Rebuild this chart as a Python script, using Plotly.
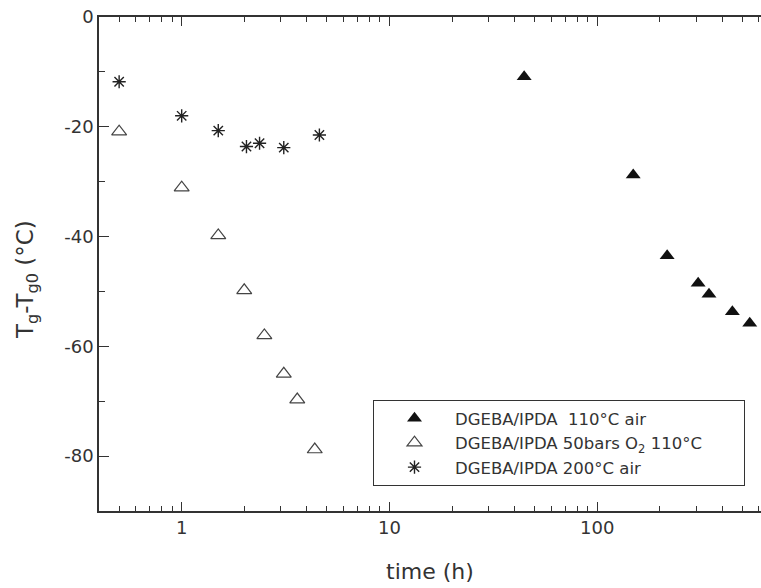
import plotly.graph_objects as go
import math

# Data
t_air110 = [44.5, 149, 217, 306, 345, 447, 542]
dT_air110 = [-10.9, -28.8, -43.5, -48.5, -50.5, -53.7, -55.8]

t_o2 = [0.5, 1.0, 1.5, 2.0, 2.5, 3.1, 3.6, 4.37]
dT_o2 = [-20.9, -31.1, -39.8, -49.8, -58.0, -65.0, -69.7, -78.8]

t_air200 = [0.5, 1.0, 1.5, 2.05, 2.37, 3.1, 4.6]
dT_air200 = [-11.8, -18.0, -20.7, -23.6, -23.0, -23.8, -21.5]

x_major = [1, 10, 100]
x_major_text = ["1", "10", "100"]
x_minor = [0.5, 0.6, 0.7, 0.8, 0.9, 2, 3, 4, 5, 6, 7, 8, 9,
           20, 30, 40, 50, 60, 70, 80, 90, 200, 300, 400, 500, 600]
y_major = [-80, -60, -40, -20, 0]
y_major_text = ["-80", "-60", "-40", "-20", "0"]
y_minor = [-70, -50, -30, -10]

ink = "#333333"
font = "DejaVu Sans, Arial, sans-serif"

fig = go.Figure()
fig.add_trace(go.Scatter(
    x=t_air110, y=dT_air110, mode="markers",
    name="DGEBA/IPDA\u00a0 110°C air",
    marker=dict(symbol="triangle-up", size=13, color="#111111",
                line=dict(width=0))))
fig.add_trace(go.Scatter(
    x=t_o2, y=dT_o2, mode="markers",
    name="DGEBA/IPDA 50bars O<sub>2</sub> 110°C" + "\u00a0" * 7,
    marker=dict(symbol="triangle-up-open", size=13, color="#444444",
                line=dict(width=1.2, color="#444444"))))
fig.add_trace(go.Scatter(
    x=t_air200, y=dT_air200, mode="markers",
    name="DGEBA/IPDA 200°C air",
    marker=dict(symbol="asterisk-open", size=11, color="#222222",
                line=dict(width=1.4, color="#222222"))))

fig.update_layout(
    width=761, height=588,
    margin=dict(l=99, r=0, t=17, b=77),
    paper_bgcolor="white", plot_bgcolor="white",
    font=dict(family=font, size=18, color=ink),
    showlegend=True,
    legend=dict(
        x=(373 - 99) / 662, y=(511 - 400) / 494,
        xanchor="left", yanchor="top",
        bordercolor=ink, borderwidth=1, bgcolor="white",
        font=dict(family=font, size=16.5, color=ink),
        itemwidth=71,
    ),
    xaxis=dict(
        type="log",
        range=[math.log10(0.4), math.log10(614)],
        tickmode="array", tickvals=x_major, ticktext=x_major_text,
        ticks="inside", ticklen=9, tickwidth=1.3, tickcolor=ink,
        showline=True, linecolor=ink, linewidth=1.5, mirror="ticks",
        showgrid=False, zeroline=False,
        tickfont=dict(size=18, color=ink),
        minor=dict(tickmode="array", tickvals=x_minor, ticks="inside",
                   ticklen=5, tickwidth=1.3, tickcolor=ink, showgrid=False),
        title=dict(text="time (h)", font=dict(size=22, color=ink), standoff=26),
    ),
    yaxis=dict(
        range=[-90, 0],
        tickmode="array", tickvals=y_major, ticktext=y_major_text,
        ticks="inside", ticklen=10, tickwidth=1.3, tickcolor=ink,
        showline=True, linecolor=ink, linewidth=1.5, mirror=False,
        showgrid=False, zeroline=False,
        tickfont=dict(size=18, color=ink),
        minor=dict(tickmode="array", tickvals=y_minor, ticks="inside",
                   ticklen=6, tickwidth=1.3, tickcolor=ink, showgrid=False),
    ),
    annotations=[dict(
        text="T<sub>g</sub>-T<sub>g0</sub> (°C)",
        xref="paper", yref="paper",
        x=(27 - 99) / 662, y=(511 - 280) / 494,
        xanchor="center", yanchor="middle",
        textangle=-90, showarrow=False,
        font=dict(family=font, size=23, color=ink),
    )],
)

fig.write_html("out.html")
